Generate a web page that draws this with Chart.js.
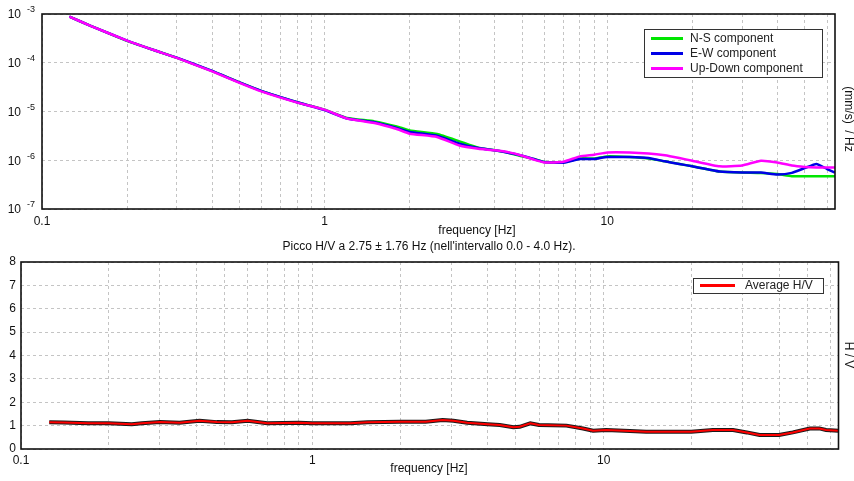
<!DOCTYPE html>
<html>
<head>
<meta charset="utf-8">
<script src="https://cdn.jsdelivr.net/npm/chart.js@4.4.1/dist/chart.umd.min.js"></script>
<style>
  html, body { margin: 0; padding: 0; background: #fff; }
  #wrap { position: relative; width: 854px; height: 481px; }
  #wrap canvas { position: absolute; left: 0; }
</style>
</head>
<body>
<div id="wrap">
  <canvas id="specChart" width="854" height="240" style="top:0"></canvas>
  <canvas id="hvChart" width="854" height="241" style="top:240px"></canvas>
</div>
<script>
// Spettri delle tre componenti (mm/s)/Hz
const freqSpec = [0.125, 0.15, 0.2, 0.25, 0.3, 0.4, 0.5, 0.6, 0.8, 1.0, 1.2, 1.5, 1.8, 2.0, 2.5, 3.0, 3.5, 4.0, 4.5, 5.0,
  5.5, 6.0, 7.0, 8.0, 9.0, 10, 12, 14, 16, 18, 20, 25, 30, 35, 40, 45, 50, 55, 60, 64];
const nsComp = [8.8e-4, 5.6e-4, 2.8e-4, 1.8e-4, 1.26e-4, 6.75e-5, 3.95e-5, 2.62e-5, 1.55e-5, 1.09e-5,
  7.4e-6, 6.27e-6, 4.94e-6, 4.09e-6, 3.45e-6, 2.44e-6, 1.8e-6, 1.6e-6, 1.41e-6, 1.2e-6,
  1.06e-6, 9.2e-7, 9.0e-7, 1.09e-6, 1.09e-6, 1.2e-6, 1.16e-6, 1.08e-6, 9.5e-7, 8.4e-7,
  7.5e-7, 5.9e-7, 5.6e-7, 5.5e-7, 5.2e-7, 4.7e-7, 4.7e-7, 4.7e-7, 4.7e-7, 4.7e-7];
const ewComp = [8.8e-4, 5.6e-4, 2.85e-4, 1.8e-4, 1.27e-4, 6.8e-5, 3.95e-5, 2.62e-5, 1.55e-5, 1.07e-5,
  7.2e-6, 6.0e-6, 4.58e-6, 3.8e-6, 3.19e-6, 2.19e-6, 1.78e-6, 1.6e-6, 1.41e-6, 1.24e-6,
  1.06e-6, 9.2e-7, 8.9e-7, 1.06e-6, 1.06e-6, 1.16e-6, 1.16e-6, 1.11e-6, 9.5e-7, 8.4e-7,
  7.5e-7, 5.9e-7, 5.6e-7, 5.6e-7, 5.1e-7, 5.5e-7, 6.9e-7, 8.4e-7, 6.6e-7, 5.6e-7];
const udComp = [8.8e-4, 5.6e-4, 2.85e-4, 1.8e-4, 1.26e-4, 6.65e-5, 3.85e-5, 2.55e-5, 1.52e-5, 1.09e-5,
  7.2e-6, 5.81e-6, 4.38e-6, 3.51e-6, 3.0e-6, 2.0e-6, 1.72e-6, 1.6e-6, 1.45e-6, 1.24e-6,
  1.03e-6, 9.0e-7, 9.3e-7, 1.2e-6, 1.3e-6, 1.45e-6, 1.45e-6, 1.38e-6, 1.26e-6, 1.11e-6,
  9.8e-7, 7.5e-7, 7.8e-7, 9.8e-7, 9.0e-7, 7.8e-7, 7.3e-7, 7.1e-7, 7.1e-7, 7.1e-7];

// Rapporto H/V medio
const freqHV = [0.125, 0.14, 0.17, 0.2, 0.24, 0.26, 0.3, 0.35, 0.41, 0.47, 0.53, 0.6, 0.7, 0.9, 1.0, 1.35, 1.55,
  2.0, 2.45, 2.8, 3.05, 3.4, 4.0, 4.4, 4.9, 5.15, 5.6, 6.0, 7.45, 8.5, 9.2, 10.2, 12.3, 14, 20, 23.7, 27.8,
  31, 34.3, 40, 44.6, 51, 55, 58, 64];
const avgHV = [1.14, 1.13, 1.10, 1.10, 1.06, 1.10, 1.15, 1.12, 1.21, 1.15, 1.14, 1.21, 1.10, 1.12, 1.10, 1.10, 1.14,
  1.17, 1.17, 1.24, 1.21, 1.12, 1.06, 1.03, 0.93, 0.95, 1.10, 1.03, 1.0, 0.88, 0.78, 0.81, 0.77, 0.74, 0.74, 0.81, 0.81,
  0.71, 0.60, 0.60, 0.71, 0.88, 0.88, 0.81, 0.78];

// Tacche degli assi
const freqGridTicks = [0.1, 0.2, 0.3, 0.4, 0.5, 0.6, 0.7, 0.8, 0.9, 1, 2, 3, 4, 5, 6, 7, 8, 9, 10, 20, 30, 40, 50, 60];
const freqLabelTicks = [0.1, 1, 10];
const specDecades = [1e-7, 1e-6, 1e-5, 1e-4, 1e-3];
const specExponents = ['-7', '-6', '-5', '-4', '-3'];
const hvTicks = [0, 1, 2, 3, 4, 5, 6, 7, 8];

const FONT = '"Liberation Sans", Arial, sans-serif';
const GRID = '#c4c4c4';

function toPoints(xs, ys) {
  return xs.map((x, i) => ({ x: x, y: ys[i] }));
}

function drawFrame(chart) {
  const a = chart.chartArea, ctx = chart.ctx;
  ctx.save();
  ctx.strokeStyle = '#111';
  ctx.lineWidth = 1.6;
  ctx.strokeRect(a.left, a.top, a.right - a.left, a.bottom - a.top);
  ctx.restore();
}

function drawText(ctx, txt, x, y, align, rotate) {
  ctx.save();
  ctx.font = '12px ' + FONT;
  ctx.fillStyle = '#111';
  ctx.textBaseline = 'middle';
  ctx.textAlign = align || 'center';
  ctx.translate(x, y);
  if (rotate) ctx.rotate(Math.PI / 2);
  ctx.fillText(txt, 0, 0);
  ctx.restore();
}

// legenda disegnata a mano, come nel grafico originale
function drawLegend(ctx, box, rows) {
  ctx.save();
  ctx.fillStyle = '#fff';
  ctx.fillRect(box.x, box.y, box.w, box.h);
  ctx.strokeStyle = '#333';
  ctx.lineWidth = 1;
  ctx.strokeRect(box.x + 0.5, box.y + 0.5, box.w, box.h);
  ctx.font = '12px ' + FONT;
  ctx.textBaseline = 'middle';
  ctx.textAlign = 'left';
  rows.forEach((r, i) => {
    const y = box.y + box.first + i * box.step;
    ctx.strokeStyle = r.color;
    ctx.lineWidth = 3;
    ctx.beginPath();
    ctx.moveTo(box.x + box.l0, y);
    ctx.lineTo(box.x + box.l1, y);
    ctx.stroke();
    ctx.fillStyle = '#222';
    ctx.fillText(r.label, box.x + box.tx, y);
  });
  ctx.restore();
}

function freqAxis(height, pad) {
  return {
    type: 'logarithmic',
    min: 0.1,
    max: 64,
    afterBuildTicks: s => { s.ticks = freqGridTicks.map(v => ({ value: v })); },
    afterFit: s => { s.height = height; },
    ticks: {
      autoSkip: false,
      maxRotation: 0,
      padding: pad,
      color: '#111',
      font: { family: FONT, size: 12 },
      callback: v => freqLabelTicks.includes(v) ? String(v) : ''
    },
    grid: { color: GRID, lineWidth: 1, drawTicks: false },
    border: { display: false, dash: [3, 3] }
  };
}

const specPlugin = {
  id: 'specDecor',
  afterDraw(chart) {
    const ctx = chart.ctx, yScale = chart.scales.y;
    drawFrame(chart);
    // etichette 10^n con esponente in apice
    specDecades.forEach((v, i) => {
      const y = yScale.getPixelForValue(v);
      ctx.save();
      ctx.fillStyle = '#111';
      ctx.textBaseline = 'middle';
      ctx.textAlign = 'right';
      ctx.font = '12px ' + FONT;
      ctx.fillText('10', 21, y + 1);
      ctx.textAlign = 'left';
      ctx.font = '9px ' + FONT;
      ctx.fillText(specExponents[i], 27, y - 4);
      ctx.restore();
    });
    drawText(ctx, 'frequency [Hz]', 477, 231);
    drawText(ctx, '(mm/s)  / Hz', 848, 119, 'center', true);
    drawLegend(ctx, { x: 644, y: 29, w: 178, h: 48, first: 9.5, step: 15, l0: 7, l1: 39, tx: 46 },
      [{ label: 'N-S component', color: '#00e600' },
       { label: 'E-W component', color: '#0000e6' },
       { label: 'Up-Down component', color: '#ff00ff' }]);
  }
};

const hvPlugin = {
  id: 'hvDecor',
  afterDraw(chart) {
    const ctx = chart.ctx;
    drawFrame(chart);
    drawText(ctx, 'Picco H/V a 2.75 \u00b1 1.76 Hz (nell\'intervallo 0.0 - 4.0 Hz).', 429, 7);
    drawText(ctx, 'frequency [Hz]', 429, 229);
    drawText(ctx, 'H / V', 848, 115, 'center', true);
    drawLegend(ctx, { x: 693, y: 38, w: 130, h: 15, first: 7.5, step: 15, l0: 7, l1: 42, tx: 52 },
      [{ label: 'Average H/V', color: '#ff0000' }]);
  }
};

new Chart(document.getElementById('specChart'), {
  type: 'line',
  data: {
    datasets: [
      { label: 'N-S component', data: toPoints(freqSpec, nsComp), borderColor: '#00e600', order: 3 },
      { label: 'E-W component', data: toPoints(freqSpec, ewComp), borderColor: '#0000e6', order: 2 },
      { label: 'Up-Down component', data: toPoints(freqSpec, udComp), borderColor: '#ff00ff', order: 1 }
    ]
  },
  options: {
    responsive: false,
    animation: false,
    elements: {
      line: { borderWidth: 2.5, tension: 0.15, fill: false },
      point: { radius: 0 }
    },
    layout: { padding: { top: 14, right: 19, left: 0, bottom: 0 } },
    plugins: { legend: { display: false }, tooltip: { enabled: false } },
    scales: {
      x: freqAxis(31, 5),
      y: {
        type: 'logarithmic',
        min: 1e-7,
        max: 1e-3,
        afterBuildTicks: s => { s.ticks = specDecades.map(v => ({ value: v })); },
        afterFit: s => { s.width = 42; },
        ticks: { display: false },
        grid: { color: GRID, lineWidth: 1, drawTicks: false },
        border: { display: false, dash: [3, 3] }
      }
    }
  },
  plugins: [specPlugin]
});

new Chart(document.getElementById('hvChart'), {
  type: 'line',
  data: {
    datasets: [
      { label: 'Average H/V', data: toPoints(freqHV, avgHV), borderColor: '#ff0000', borderWidth: 2, order: 1 },
      { label: '', data: toPoints(freqHV, avgHV), borderColor: '#1a1a1a', borderWidth: 4, order: 2 }
    ]
  },
  options: {
    responsive: false,
    animation: false,
    elements: {
      line: { tension: 0, fill: false },
      point: { radius: 0 }
    },
    layout: { padding: { top: 22, right: 15.5, left: 0, bottom: 0 } },
    plugins: { legend: { display: false }, tooltip: { enabled: false } },
    scales: {
      x: freqAxis(32, 4),
      y: {
        type: 'linear',
        min: 0,
        max: 8,
        afterBuildTicks: s => { s.ticks = hvTicks.map(v => ({ value: v })); },
        afterFit: s => { s.width = 21; },
        ticks: { padding: 5, color: '#111', font: { family: FONT, size: 12 } },
        grid: { color: GRID, lineWidth: 1, drawTicks: false },
        border: { display: false, dash: [3, 3] }
      }
    }
  },
  plugins: [hvPlugin]
});
</script>
</body>
</html>
